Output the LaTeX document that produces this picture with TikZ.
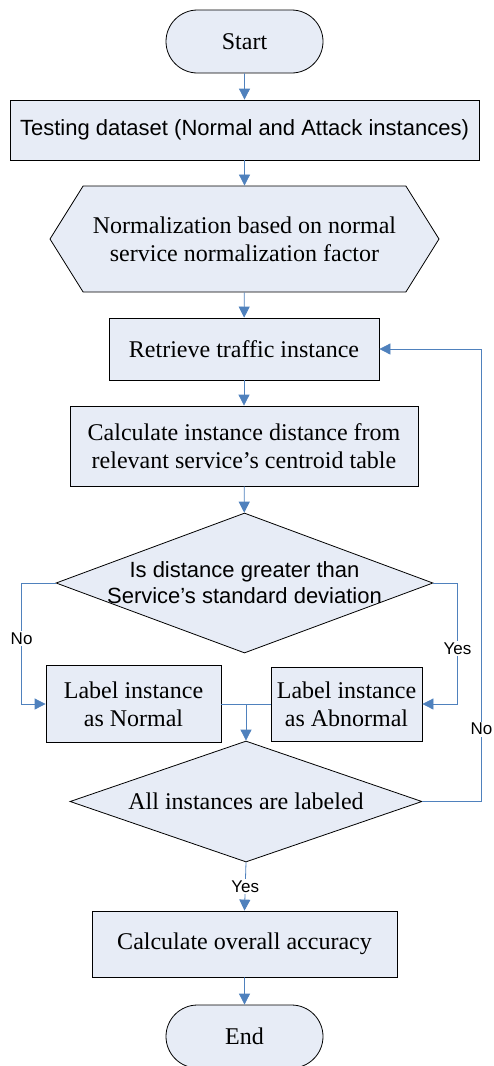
\documentclass[tikz,border=0pt]{standalone}
\usepackage{fontspec}
\setmainfont{Liberation Serif}
\setsansfont{Liberation Sans}
\usetikzlibrary{shapes.geometric,shapes.misc,shapes.symbols,arrows.meta}

\definecolor{boxfill}{RGB}{231,236,246}
\definecolor{flowblue}{RGB}{79,129,189}

\tikzset{
	box/.style={draw, fill=boxfill, line width=0.8pt, inner sep=0pt, align=center, font=\fontsize{24}{28}\selectfont},
	term/.style={box, rounded rectangle, minimum width=157pt, minimum height=63pt},
	proc/.style={box, rectangle},
	prep/.style={box, signal, signal to=west and east, signal pointer angle=116},
	decide/.style={box, diamond},
	serif/.style={align=center, inner sep=0pt, font=\fontsize{24}{28}\selectfont},
	sans/.style={align=center, inner sep=0pt, font=\sffamily\fontsize{22}{26}\selectfont},
	flow/.style={flowblue, line width=0.8pt, -{Triangle[length=11pt,width=11pt]}},
	link/.style={flowblue, line width=0.8pt},
	ans/.style={fill=white, text=black, inner sep=1.5pt, font=\sffamily\fontsize{17}{20}\selectfont},
}

\begin{document}
\begin{tikzpicture}[x=1pt,y=-1pt]

	\useasboundingbox (0,0) rectangle (494,1066);

	\node[term] (start) at (244.5,41.5) {Start};
	\node[proc, sans, draw, fill=boxfill, minimum width=469pt, minimum height=60pt] (data) at (244.5,130) {Testing dataset (Normal and Attack instances)};
	\node[prep, minimum width=389pt, minimum height=106pt, label={[serif]center:Normalization based on normal\\service normalization factor}] (norm) at (244.5,239) {};
	\node[proc, minimum width=270pt, minimum height=62pt] (retr) at (244,349) {Retrieve traffic instance};
	\node[proc, minimum width=348pt, minimum height=80pt] (calc) at (244,446) {Calculate instance distance from\\relevant service's centroid table};

	\node[decide, minimum width=377pt, minimum height=140pt, label={[sans]center:Is distance greater than\\Service's standard deviation}] (dev) at (244.5,583) {};

	\node[proc, minimum width=175pt, minimum height=77pt] (lnorm) at (133.5,704) {Label instance\\as Normal};
	\node[proc, minimum width=151pt, minimum height=74pt] (labn) at (346.5,704) {Label instance\\as Abnormal};

	\node[decide, minimum width=352pt, minimum height=121pt, label={[serif]center:All instances are labeled}] (done) at (246,801.5) {};

	\node[proc, minimum width=305pt, minimum height=66pt] (acc) at (244.5,944) {Calculate overall accuracy};
	\node[term] (stop) at (244.5,1036.5) {End};

	\draw[flow] (start) -- (data);
	\draw[flow] (data) -- (norm);
	\draw[flow] (norm) -- (retr);
	\draw[flow] (retr) -- (calc);
	\draw[flow] (calc) -- (dev);

	\draw[flow] (dev.west) -- ++(-34,0) |- node[ans, pos=0.23] {No} (lnorm.west);
	\draw[flow] (dev.east) -- ++(24,0) |- node[ans, pos=0.27] {Yes} (labn.east);

	\draw[link] (lnorm.east) -- coordinate[midway] (m) (labn.west);
	\draw[flow] (m) -- (done.north);

	\draw[flow] (done.east) -- ++(59,0) |- node[ans, pos=0.08] {No} (retr.east);
	\draw[flow] (done.south) -- node[ans] {Yes} (acc.north);
	\draw[flow] (acc) -- (stop);

\end{tikzpicture}
\end{document}
